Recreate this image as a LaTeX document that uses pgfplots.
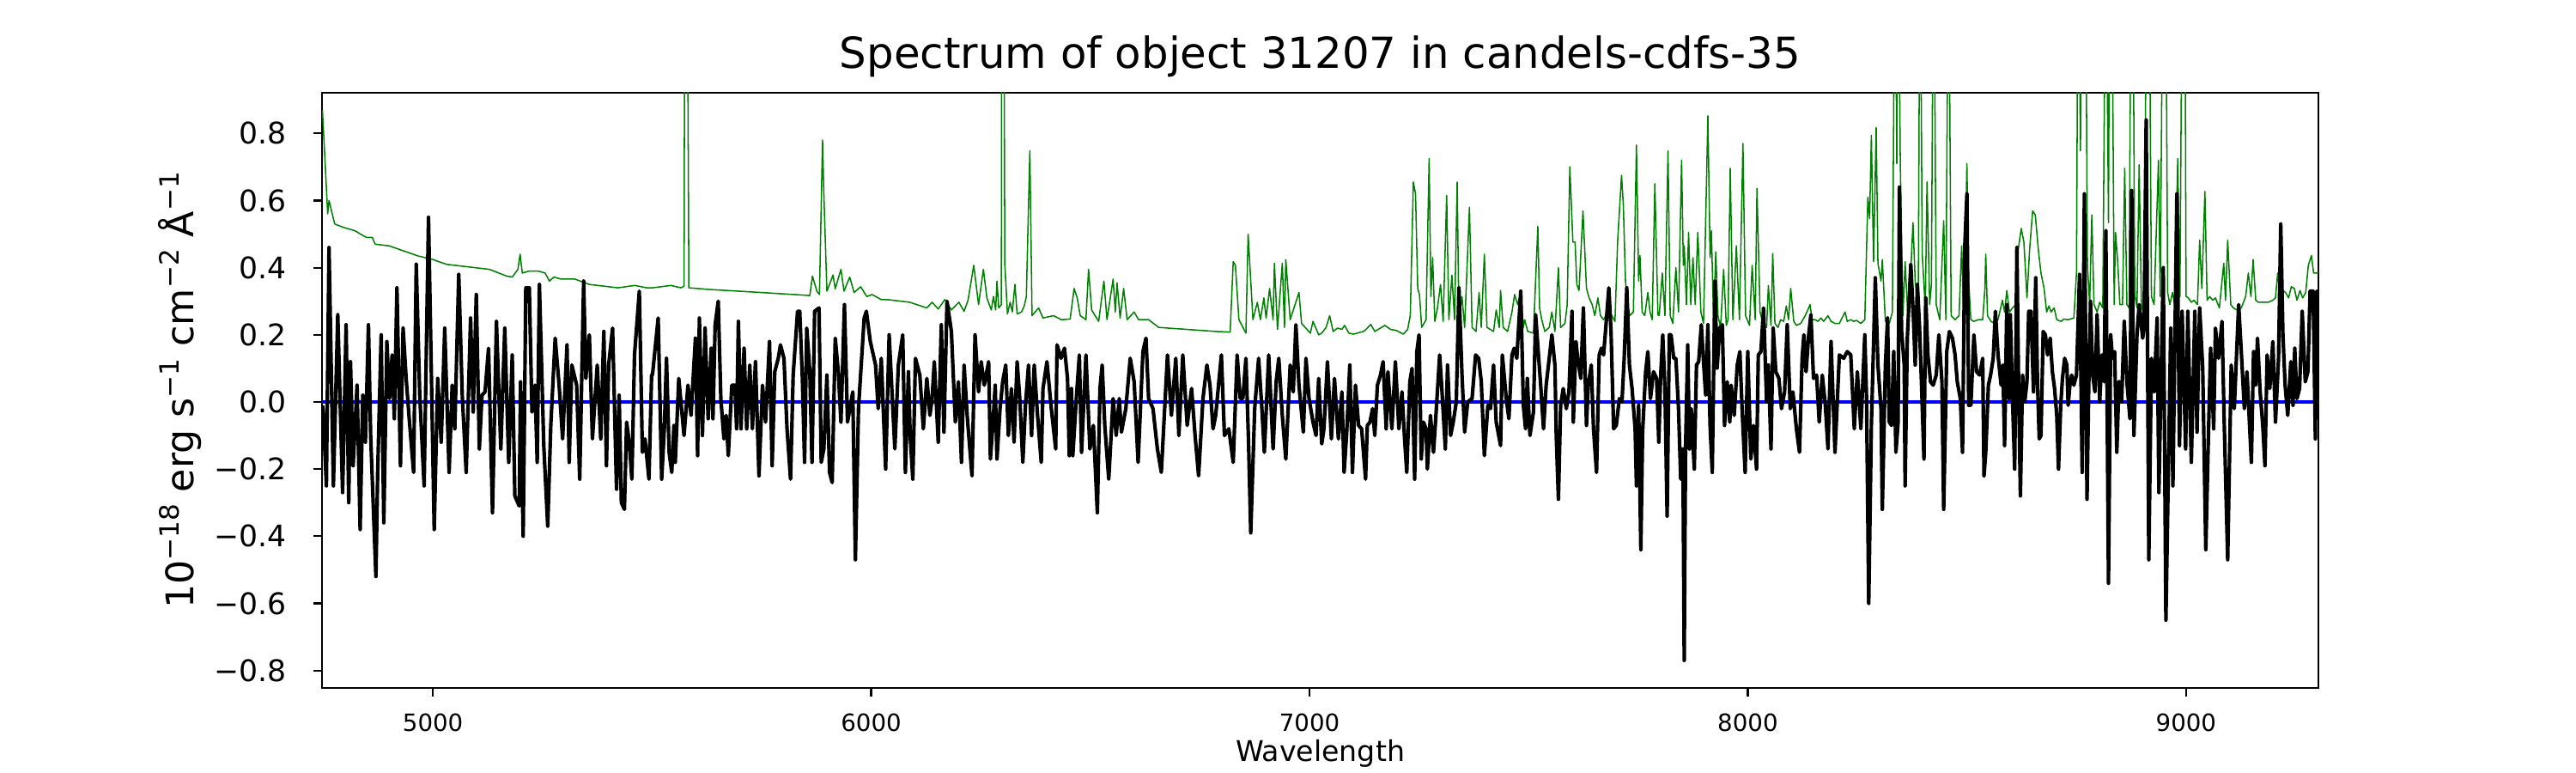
\documentclass[border=0pt]{standalone}
\usepackage{fontspec}
\setmainfont{DejaVu Sans}
\usepackage{pgfplots}
\pgfplotsset{compat=1.18}
\definecolor{mplgreen}{rgb}{0,0.5,0}
\newcommand{\sps}[1]{\raisebox{0.38em}{\fontsize{11.2}{12}\selectfont #1}}
\begin{document}
\begin{tikzpicture}
\path[use as bounding box] (0,0) rectangle (1080bp,324bp);
\begin{axis}[
  at={(135bp,35.64bp)}, anchor=south west,
  scale only axis, width=837bp, height=249.48bp,
  xmin=4747, xmax=9302, ymin=-0.852, ymax=0.921,
  axis line style={line width=0.8bp},
  tick align=outside, major tick length=3.5bp,
  every tick/.style={line width=0.8bp, black},
  xtick pos=left, ytick pos=left,
  xtick={5000,6000,7000,8000,9000},
  xticklabels={5000,6000,7000,8000,9000},
  ytick={-0.8,-0.6,-0.4,-0.2,0,0.2,0.4,0.6,0.8},
  yticklabels={−0.8,−0.6,−0.4,−0.2,0.0,0.2,0.4,0.6,0.8},
  xticklabel style={font=\fontsize{10}{12}\selectfont, anchor=base, inner sep=0pt, yshift=-14.5bp},
  yticklabel style={font=\fontsize{12.5}{14}\selectfont, anchor=east, inner sep=0pt, xshift=-11.2bp},
  title={Spectrum of object 31207 in candels-cdfs-35},
  title style={font=\fontsize{18}{20}\selectfont, at={(axis description cs:0.5,1)}, anchor=base, yshift=4.3bp, inner sep=0pt},
  xlabel={Wavelength},
  xlabel style={font=\fontsize{12}{14}\selectfont, at={(axis description cs:0.5,0)}, anchor=base, yshift=-30.9bp, inner sep=0pt},
  ylabel={10\sps{−18} erg s\sps{−1} cm\sps{−2} Å\sps{−1}},
  ylabel style={font=\fontsize{16}{18}\selectfont, at={(axis description cs:-0.0644,0.5)}, anchor=base, inner sep=0pt},
  clip=true,
]
% green: sky / noise spectrum
\addplot[mplgreen, line width=0.55bp, line join=round] coordinates {
(4748,0.87) (4760,0.56) (4763,0.60) (4776,0.53) (4796,0.52) (4822,0.51) (4848,0.49) (4862,0.49) (4868,0.47) (4900,0.465) (4933,0.45) (4966,0.435) (4998,0.425) (5031,0.41) (5063,0.405) (5129,0.395) (5168,0.375) (5181,0.372) (5194,0.395) (5199,0.44) (5204,0.384) (5220,0.39) (5240,0.39) (5256,0.384) (5266,0.36) (5276,0.372) (5292,0.366) (5324,0.366) (5357,0.35) (5422,0.34) (5461,0.347) (5488,0.34)
(5501,0.34) (5543,0.347) (5566,0.34) (5573,0.345) (5575,1.5) (5577,1.5) (5580,1.5) (5584,0.34) (5631,0.335) (5697,0.33) (5762,0.325) (5860,0.317) (5866,0.375) (5876,0.33) (5882,0.32) (5889,0.78) (5892,0.62) (5899,0.33) (5913,0.378) (5918,0.337) (5931,0.395) (5938,0.33) (5951,0.372) (5961,0.326) (5976,0.343) (5990,0.314) (6002,0.32) (6023,0.305) (6036,0.305) (6088,0.297) (6127,0.28) (6139,0.297) (6153,0.277) (6168,0.305) (6183,0.274) (6200,0.297) (6212,0.27) (6221,0.303) (6234,0.407) (6245,0.29) (6256,0.395)
(6264,0.31) (6274,0.274) (6279,0.314) (6284,0.274) (6287,0.36) (6291,0.28) (6297,0.29) (6298,1.5) (6302,1.5) (6305,0.407) (6311,0.262) (6317,0.297) (6322,0.268) (6328,0.35) (6333,0.262) (6343,0.268) (6349,0.285) (6354,0.314) (6362,0.748) (6367,0.257) (6382,0.28) (6392,0.25) (6416,0.257) (6434,0.245) (6454,0.247) (6463,0.338) (6470,0.31) (6477,0.257) (6490,0.245) (6496,0.395) (6503,0.274) (6519,0.24) (6531,0.36) (6538,0.245) (6552,0.366) (6557,0.268) (6561,0.355) (6568,0.25) (6576,0.338) (6584,0.245) (6600,0.268) (6610,0.245) (6633,0.245) (6656,0.222) (6721,0.216) (6786,0.21) (6819,0.208) (6826,0.418) (6831,0.407) (6839,0.245) (6855,0.205) (6860,0.50) (6871,0.245) (6881,0.297) (6888,0.245) (6896,0.31) (6901,0.25) (6909,0.338) (6917,0.245) (6920,0.413) (6927,0.216) (6938,0.413) (6943,0.222) (6946,0.424) (6956,0.245) (6976,0.326) (6982,0.234) (7002,0.205) (7008,0.24) (7021,0.2)
(7028,0.205) (7038,0.222) (7046,0.257) (7054,0.21) (7064,0.22) (7074,0.216) (7080,0.228) (7090,0.205) (7100,0.202) (7123,0.21) (7129,0.216) (7140,0.231) (7149,0.21) (7172,0.228) (7185,0.216) (7198,0.213) (7214,0.202) (7224,0.216) (7230,0.257) (7237,0.655) (7242,0.62) (7247,0.338) (7251,0.32) (7256,0.222) (7266,0.245) (7273,0.725) (7277,0.314) (7281,0.43) (7286,0.24) (7292,0.28) (7299,0.35) (7305,0.24) (7313,0.615) (7318,0.245) (7325,0.378) (7331,0.245) (7337,0.655) (7341,0.245) (7348,0.314) (7354,0.222) (7365,0.58) (7371,0.222) (7380,0.21) (7387,0.326) (7392,0.222) (7399,0.44) (7405,0.222) (7420,0.21) (7426,0.274) (7433,0.222) (7436,0.332) (7442,0.222) (7452,0.21) (7462,0.268) (7468,0.32) (7475,0.29) (7482,0.326) (7488,0.222) (7491,0.245) (7498,0.21) (7511,0.205) (7521,0.523) (7525,0.28) (7530,0.245) (7537,0.21) (7547,0.222) (7553,0.268) (7560,0.21) (7568,0.40) (7573,0.222) (7583,0.234) (7588,0.29) (7594,0.70) (7601,0.476) (7606,0.476) (7610,0.35) (7615,0.332) (7624,0.569) (7632,0.338) (7638,0.31) (7645,0.29) (7651,0.257) (7658,0.31) (7664,0.257) (7671,0.245) (7681,0.268) (7690,0.257) (7697,0.24) (7703,0.476) (7712,0.675) (7716,0.59) (7721,0.36) (7726,0.29) (7731,0.257) (7739,0.268) (7746,0.765) (7751,0.36) (7754,0.436) (7759,0.268) (7765,0.257) (7772,0.326) (7777,0.268) (7782,0.245) (7788,0.65)
(7795,0.26) (7798,0.257) (7805,0.384) (7811,0.257) (7818,0.748) (7823,0.257) (7829,0.234) (7836,0.40) (7842,0.268) (7849,0.72) (7853,0.407) (7855,0.465) (7860,0.29) (7865,0.505) (7870,0.29) (7875,0.43) (7880,0.29) (7886,0.505) (7893,0.268) (7899,0.234) (7909,0.852) (7914,0.43) (7917,0.51) (7922,0.245) (7927,0.447) (7932,0.257) (7938,0.222) (7945,0.395) (7951,0.228) (7955,0.245) (7960,0.696) (7966,0.245) (7974,0.465) (7981,0.245) (7989,0.77) (7995,0.257) (8004,0.228) (8010,0.407) (8017,0.245) (8021,0.636) (8028,0.268) (8036,0.228) (8043,0.222) (8047,0.347) (8053,0.228) (8057,0.442) (8062,0.234) (8069,0.222) (8075,0.245) (8082,0.24) (8088,0.286) (8093,0.245) (8098,0.338) (8105,0.24) (8111,0.228) (8121,0.234) (8131,0.257) (8137,0.274) (8142,0.29) (8147,0.245) (8154,0.245) (8160,0.24) (8167,0.25) (8173,0.24) (8183,0.257) (8190,0.24) (8199,0.234) (8209,0.234) (8222,0.268) (8227,0.24) (8235,0.245) (8242,0.24) (8248,0.243) (8258,0.234) (8267,0.245) (8274,0.61) (8278,0.546) (8282,0.794) (8287,0.418) (8293,0.817) (8297,0.413) (8304,0.36) (8307,0.424) (8314,0.24) (8323,0.234) (8330,0.268) (8336,1.5) (8340,0.71) (8343,1.5) (8348,0.713) (8354,0.257) (8359,0.418) (8366,0.234) (8372,0.395) (8377,0.534) (8382,0.36) (8389,0.268) (8393,1.5) (8398,0.442) (8405,0.28) (8409,0.655) (8415,0.29) (8419,0.35) (8424,1.5) (8430,0.29) (8438,0.245) (8447,0.54) (8452,0.245) (8458,1.5) (8464,0.257) (8473,0.245) (8482,0.257) (8488,0.465) (8493,0.24) (8500,0.71) (8504,0.36) (8509,0.245) (8516,0.24) (8526,0.245)
(8536,0.245) (8541,0.338) (8543,0.44) (8547,0.257) (8555,0.24) (8562,0.234) (8571,0.245) (8581,0.303) (8586,0.268) (8591,0.332) (8597,0.268) (8604,0.28) (8611,0.29) (8617,0.453) (8624,0.517) (8630,0.476) (8637,0.31) (8643,0.453) (8650,0.569) (8656,0.557) (8663,0.453) (8669,0.384) (8676,0.338) (8682,0.268) (8687,0.286) (8692,0.268) (8699,0.28) (8705,0.245) (8715,0.24) (8721,0.247) (8731,0.245) (8744,0.25) (8750,0.384) (8754,1.5) (8759,0.748) (8764,1.5) (8770,1.5) (8775,0.407) (8780,0.29) (8785,0.557) (8790,0.29) (8797,0.268) (8803,0.297) (8810,0.28) (8817,1.5) (8823,0.534) (8826,1.5) (8830,1.5) (8836,0.29) (8839,0.505) (8844,0.418) (8849,0.29) (8855,0.29) (8860,0.696) (8865,0.29) (8870,0.28) (8875,1.5) (8878,1.5) (8883,0.32) (8888,0.28) (8893,0.707) (8898,0.29) (8904,0.257) (8911,1.5) (8915,1.5) (8921,0.314) (8927,0.29) (8937,0.72) (8941,0.314) (8948,1.5) (8953,1.5) (8958,0.326) (8963,0.29) (8969,0.326) (8974,0.29) (8981,0.725) (8986,0.314) (8992,1.5) (8997,1.5) (9000,0.314) (9005,0.31) (9012,0.297) (9018,0.303) (9026,0.29) (9031,0.482) (9036,0.338) (9043,0.627) (9048,0.303) (9054,0.314) (9061,0.303) (9067,0.31) (9076,0.28) (9086,0.413) (9090,0.303) (9095,0.482) (9102,0.29) (9108,0.28) (9116,0.274) (9126,0.28) (9136,0.314) (9142,0.384) (9148,0.314) (9153,0.424) (9159,0.303) (9165,0.297) (9175,0.297) (9188,0.297) (9198,0.303) (9204,0.31) (9209,0.384) (9214,0.326) (9221,0.332) (9227,0.326) (9234,0.31) (9240,0.343) (9247,0.338) (9253,0.303) (9260,0.332) (9266,0.31) (9273,0.326) (9279,0.407) (9286,0.436) (9291,0.384) (9302,0.384)
};
% blue: zero level
\addplot[blue, line width=1.5bp] coordinates {(4747,0) (9302,0)};
% black: object spectrum
\addplot[black, line width=1.5bp, line join=round] coordinates {
(4749,-0.01) (4757,-0.25) (4763,0.46) (4773,-0.25) (4783,0.26) (4794,-0.27) (4802,0.23) (4808,-0.30) (4812,0.12) (4818,-0.19) (4827,0.05) (4834,-0.38) (4840,0.02) (4846,-0.12) (4853,0.23) (4858,-0.10) (4870,-0.52) (4874,-0.21) (4882,0.20) (4888,-0.36) (4895,0.18) (4901,0.01) (4907,0.14) (4912,-0.05) (4918,0.34) (4926,-0.19) (4932,0.22) (4939,0.07) (4946,-0.05) (4956,-0.21) (4962,0.41) (4970,0.02) (4980,-0.25) (4990,0.55) (5003,-0.38) (5011,0.07) (5019,-0.12) (5027,0.22) (5037,-0.21) (5044,0.05) (5050,-0.08) (5059,0.38) (5067,0.02) (5076,-0.21) (5086,0.25) (5092,-0.03) (5099,0.32) (5106,-0.14) (5112,0.02) (5119,0.03) (5127,0.16) (5136,-0.33) (5145,0.24) (5155,-0.14) (5164,0.22) (5173,-0.18) (5181,0.14) (5187,-0.28) (5197,-0.31) (5200,0.06) (5206,-0.40) (5212,0.34) (5220,0.34) (5226,-0.03) (5233,0.05) (5238,-0.18) (5243,0.35) (5253,-0.13) (5262,-0.37) (5269,-0.07) (5279,0.19) (5288,0.05) (5296,-0.11) (5306,0.17) (5311,-0.18) (5317,0.11) (5328,0.05) (5335,-0.23) (5344,0.36) (5349,0.07) (5357,0.20) (5364,-0.11) (5375,0.11) (5383,-0.11) (5390,0.21) (5396,-0.19) (5401,0.11) (5410,0.22) (5419,-0.26) (5425,0.02) (5430,-0.30) (5437,-0.32) (5442,-0.06) (5448,-0.12) (5454,-0.23) (5460,0.14) (5471,0.33) (5478,-0.15) (5484,-0.11) (5493,-0.23) (5499,0.08)
(5501,0.08) (5514,0.25) (5522,-0.23) (5528,-0.08) (5533,0.13) (5539,-0.15) (5545,-0.21) (5550,-0.07) (5553,-0.18) (5561,0.07) (5573,-0.10) (5582,0.05) (5589,-0.04) (5599,0.19) (5604,-0.16) (5608,0.25) (5615,-0.10) (5621,0.22) (5628,-0.05) (5635,0.16) (5639,-0.05) (5644,0.23) (5651,0.30) (5657,0.01) (5664,-0.11) (5669,-0.04) (5674,-0.16) (5682,0.05) (5689,0.05) (5693,-0.08) (5697,0.24) (5703,-0.08) (5710,0.16) (5716,-0.08) (5723,0.11) (5729,-0.08) (5736,0.12) (5744,-0.22) (5752,0.05) (5759,-0.06) (5768,0.18) (5774,-0.19) (5780,0.09) (5788,0.13) (5793,0.17) (5801,0.13) (5808,-0.08) (5816,-0.23) (5822,0.08) (5832,0.27) (5837,0.27) (5843,0.07) (5848,-0.18) (5853,0.22) (5860,0.09) (5865,-0.18) (5871,0.27) (5881,0.28) (5886,-0.18) (5892,-0.14) (5899,0.08) (5905,-0.21) (5911,-0.24) (5918,0.19) (5925,0.09) (5931,-0.06) (5939,0.29) (5946,-0.06) (5958,0.03) (5964,-0.47) (5971,-0.02) (5984,0.25) (5989,0.27) (5998,0.18) (6010,0.11) (6016,-0.02) (6023,0.13) (6033,-0.20) (6041,0.20) (6049,-0.01) (6054,-0.14) (6062,0.11) (6072,0.20) (6078,-0.21) (6085,0.09) (6089,-0.10) (6095,-0.23) (6101,0.13) (6111,0.08) (6119,-0.08) (6127,0.07) (6134,-0.04) (6139,0.01) (6144,0.12) (6153,-0.12) (6160,0.23) (6166,-0.09) (6173,0.30) (6183,0.21) (6192,-0.06) (6199,0.06) (6206,-0.18) (6212,0.11) (6219,-0.04) (6230,-0.22) (6237,0.20) (6245,0.03) (6251,0.12) (6258,0.05)
(6268,0.12) (6272,-0.17) (6277,-0.08) (6283,0.05) (6287,-0.17) (6294,-0.02) (6300,0.06) (6307,0.11) (6313,-0.10) (6320,0.04) (6326,-0.12) (6333,0.12) (6339,0.01) (6346,-0.18) (6352,-0.01) (6359,0.11) (6366,-0.10) (6372,0.11) (6379,-0.03) (6388,-0.18) (6392,0.04) (6401,0.12) (6411,-0.02) (6421,-0.14) (6424,0.17) (6433,0.13) (6441,0.16) (6448,0.07) (6452,-0.16) (6457,0.04) (6460,-0.16) (6468,0.01) (6475,0.14) (6480,-0.15) (6490,0.14) (6499,-0.14) (6507,-0.07) (6516,-0.33) (6522,0.04) (6527,0.11) (6533,-0.07) (6542,-0.23) (6552,0.01) (6559,-0.10) (6566,0.01) (6571,-0.09) (6581,-0.02) (6591,0.13) (6600,0.06) (6609,-0.18) (6620,0.15) (6627,0.19) (6633,0.01) (6643,-0.02) (6653,-0.14) (6662,-0.21) (6676,0.14) (6685,-0.04) (6695,0.13) (6702,-0.10) (6711,0.14) (6721,-0.07) (6731,0.04) (6739,-0.10) (6747,-0.22) (6757,0.01) (6766,0.11) (6773,0.05) (6780,-0.08) (6786,-0.04) (6799,0.14) (6806,-0.10) (6816,-0.08) (6826,-0.18) (6835,0.14) (6842,0.01) (6848,0.01) (6855,0.13) (6861,-0.12) (6866,-0.39) (6875,-0.02) (6884,0.13) (6891,-0.01) (6897,-0.15) (6907,0.14) (6917,-0.14) (6924,0.06) (6930,0.13) (6938,-0.04) (6946,-0.17) (6956,0.11) (6963,0.03) (6969,0.23) (6976,0.05) (6986,-0.09) (6992,0.13) (6999,0.01) (7008,-0.06) (7015,-0.10) (7021,0.07)
(7028,-0.125) (7033,-0.08) (7041,0.12) (7050,-0.11) (7057,0.07) (7066,-0.11) (7074,0.03) (7079,-0.21) (7085,-0.09) (7092,0.11) (7098,-0.21) (7105,0.05) (7112,-0.07) (7119,-0.08) (7128,-0.23) (7132,-0.07) (7138,-0.06) (7144,-0.02) (7149,-0.10) (7155,0.05) (7162,0.08) (7168,0.12) (7175,-0.08) (7179,0.09) (7188,-0.08) (7196,0.12) (7204,-0.08) (7211,0.03) (7217,-0.11) (7222,-0.21) (7229,0.06) (7234,0.10) (7240,-0.23) (7245,0.15) (7250,0.20) (7255,-0.17) (7260,-0.06) (7266,-0.08) (7269,-0.20) (7276,-0.04) (7283,-0.15) (7289,-0.03) (7297,0.14) (7302,0.04) (7310,-0.14) (7315,0.11) (7322,-0.10) (7328,-0.06) (7335,0.00) (7341,0.34) (7348,0.08) (7354,-0.09) (7361,0.00) (7371,0.01) (7379,0.14) (7386,0.13) (7392,0.06) (7399,-0.16) (7407,-0.01) (7413,-0.02) (7420,0.11) (7426,-0.06) (7436,-0.13) (7440,0.14) (7449,0.01) (7455,-0.05) (7462,0.14) (7467,0.16) (7473,0.13) (7482,0.33) (7488,-0.01) (7493,-0.08) (7497,0.07) (7503,-0.10) (7511,-0.03) (7516,0.26) (7523,0.13) (7527,0.06) (7534,-0.08) (7540,0.05) (7547,0.13) (7553,0.20) (7560,0.11) (7563,-0.10) (7568,-0.29) (7573,-0.01) (7579,0.04) (7586,-0.02) (7592,0.03) (7599,0.27) (7602,-0.06) (7608,0.18) (7612,0.13) (7619,0.07) (7625,0.28) (7632,-0.07) (7636,0.05) (7643,0.11) (7648,-0.08) (7655,-0.21) (7661,0.14) (7666,0.16) (7671,0.14) (7676,0.22) (7683,0.34) (7688,0.21) (7694,-0.08) (7700,-0.07) (7707,0.01) (7713,0.00) (7718,0.13) (7724,0.34) (7730,0.11) (7736,0.04) (7743,-0.08) (7746,-0.25) (7751,-0.01) (7756,-0.44) (7760,-0.09) (7767,0.09) (7772,0.15) (7778,0.01) (7785,0.09)
(7792,0.07) (7797,-0.12) (7801,0.07) (7806,0.20) (7811,0.04) (7816,-0.34) (7821,0.20) (7825,0.20) (7831,0.13) (7836,0.13) (7842,-0.02) (7847,-0.23) (7852,-0.14) (7855,-0.77) (7858,-0.14) (7863,0.17) (7867,-0.14) (7871,-0.02) (7878,-0.20) (7883,0.11) (7888,0.12) (7894,0.23) (7899,0.12) (7904,0.02) (7909,0.23) (7914,-0.07) (7919,-0.21) (7925,0.36) (7930,0.10) (7936,0.22) (7942,0.23) (7947,-0.07) (7953,0.06) (7959,-0.06) (7962,0.05) (7969,-0.04) (7976,0.11) (7982,0.15) (7987,-0.02) (7994,-0.21) (8000,0.15) (8007,-0.17) (8013,-0.07) (8020,-0.20) (8024,0.14) (8030,0.15) (8036,0.28) (8043,0.00) (8047,0.11) (8053,-0.14) (8058,0.22) (8064,0.09) (8071,0.07) (8077,-0.02) (8084,0.03) (8090,0.23) (8097,-0.02) (8103,0.03) (8111,-0.08) (8118,-0.15) (8124,0.13) (8128,0.20) (8133,0.09) (8139,0.20) (8144,0.26) (8150,0.07) (8157,0.08) (8163,-0.06) (8170,0.08) (8177,-0.01) (8183,-0.14) (8190,0.18) (8199,-0.15) (8209,0.14) (8219,0.13) (8227,0.15) (8235,0.14) (8243,-0.08) (8250,0.09) (8258,-0.08) (8267,0.20) (8271,0.01) (8276,-0.60) (8282,-0.07) (8291,0.37) (8297,0.11) (8304,-0.02) (8307,-0.32) (8314,0.11) (8319,0.25) (8323,-0.06) (8328,-0.07) (8333,0.15) (8338,-0.15) (8343,-0.06) (8346,0.64) (8351,0.21) (8357,0.11) (8359,-0.25) (8364,0.19) (8372,0.41) (8378,0.25) (8382,0.11) (8387,0.35) (8392,0.22) (8397,0.03) (8402,-0.17) (8406,0.31) (8411,0.14) (8417,0.06) (8423,0.05) (8430,0.08) (8436,0.20) (8443,0.06) (8447,-0.32) (8454,0.15) (8460,0.21) (8467,0.19) (8473,0.14) (8478,0.06) (8485,0.01) (8490,-0.15) (8495,0.46) (8500,0.62) (8504,-0.01) (8509,-0.01) (8516,0.20) (8522,0.09) (8529,0.08)
(8536,0.13) (8539,-0.22) (8543,-0.15) (8549,0.05) (8554,0.08) (8560,0.13) (8565,0.27) (8571,0.14) (8578,0.05) (8582,0.11) (8586,-0.13) (8591,0.29) (8596,0.01) (8599,0.26) (8604,0.01) (8609,-0.20) (8614,0.46) (8618,0.04) (8622,-0.28) (8627,0.08) (8632,0.00) (8637,0.06) (8641,0.27) (8646,0.27) (8652,0.03) (8657,0.37) (8661,0.06) (8665,-0.11) (8669,-0.10) (8674,0.21) (8679,0.20) (8684,0.14) (8690,0.19) (8695,0.09) (8700,0.04) (8705,-0.04) (8709,-0.20) (8714,-0.01) (8718,0.07) (8723,0.13) (8728,0.11) (8731,-0.01) (8735,0.05) (8739,0.08) (8744,0.05) (8750,0.08) (8757,0.38) (8763,-0.21) (8768,0.62) (8774,-0.29) (8778,0.05) (8782,0.30) (8787,0.08) (8792,0.03) (8797,0.26) (8803,0.00) (8808,0.14) (8813,0.06) (8817,0.51) (8823,-0.54) (8828,0.20) (8832,0.13) (8837,0.15) (8842,-0.15) (8847,0.06)
(8849,0.06) (8853,0.00) (8859,0.24) (8865,0.06) (8872,-0.05) (8876,0.63) (8881,-0.10) (8888,0.20) (8893,0.29) (8901,0.19) (8904,0.22) (8909,0.84) (8915,-0.47) (8921,0.13) (8927,0.03) (8934,0.25) (8938,-0.27) (8948,0.40) (8954,-0.65) (8965,0.22) (8970,-0.25) (8979,0.62) (8985,-0.13) (8991,0.27) (8999,-0.14) (9004,0.27) (9012,-0.18) (9020,0.27) (9025,-0.09) (9031,0.28) (9038,0.10) (9045,-0.44) (9051,-0.10) (9056,0.16) (9063,-0.08) (9067,0.22) (9074,0.13) (9082,0.24) (9087,-0.06) (9095,-0.47) (9103,0.11) (9110,-0.02) (9120,0.29) (9126,0.15) (9133,-0.02) (9139,0.09)
(9149,-0.18) (9154,0.15) (9159,0.05) (9163,0.19) (9169,0.03) (9175,-0.07) (9180,-0.19) (9185,0.14) (9191,0.04) (9198,0.18) (9204,-0.06) (9211,0.13) (9216,0.53) (9221,0.20) (9226,0.05) (9232,-0.04) (9239,0.12) (9244,-0.01) (9248,0.16) (9253,0.01) (9259,0.04) (9265,0.27) (9272,0.06) (9278,0.09) (9283,0.33) (9290,0.33) (9295,-0.11) (9298,0.33) (9302,0.30)
};
\end{axis}
\end{tikzpicture}
\end{document}
